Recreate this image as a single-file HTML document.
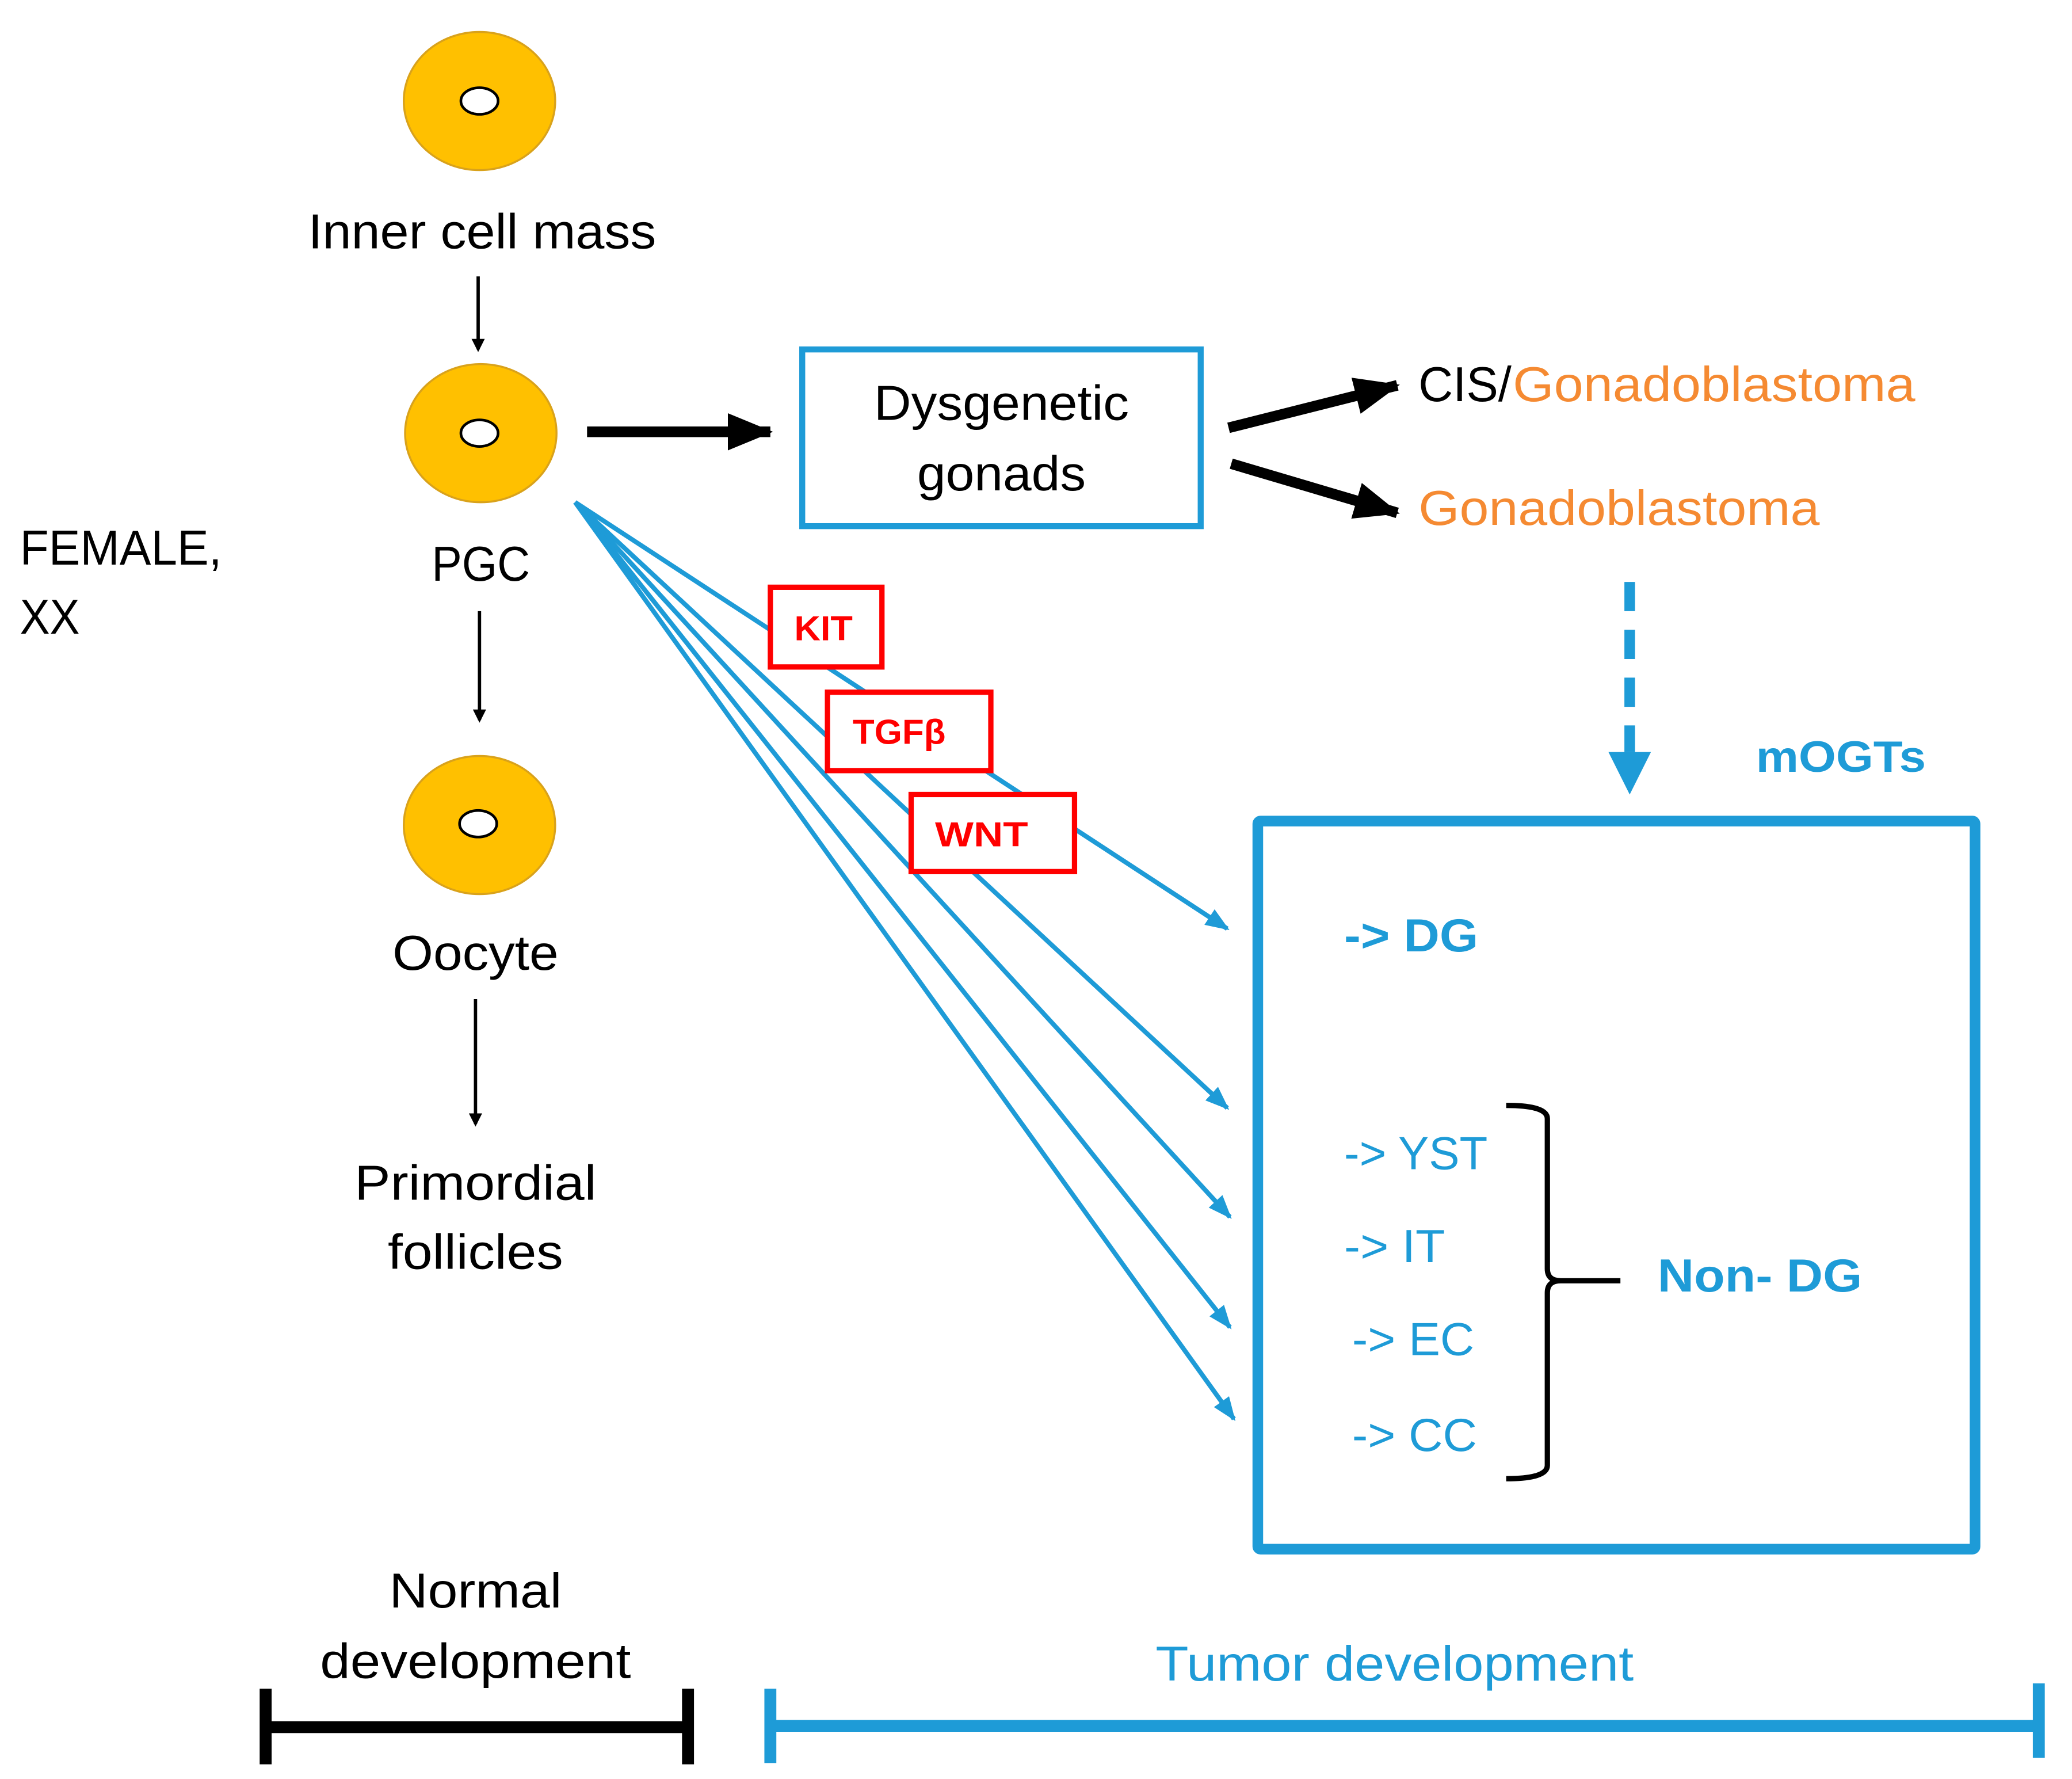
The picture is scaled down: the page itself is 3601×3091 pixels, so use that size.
<!DOCTYPE html>
<html><head><meta charset="utf-8"><style>html,body{margin:0;padding:0;background:#fff}svg{display:block}</style></head>
<body>
<svg width="3601" height="3091" viewBox="0 0 1560 1339" xmlns="http://www.w3.org/2000/svg" font-family="'Liberation Sans', sans-serif">
<defs>
<marker id="hb" markerWidth="10" markerHeight="10" refX="8" refY="5" orient="auto" markerUnits="userSpaceOnUse"><path d="M0,0 L10,5 L0,10 z" fill="#000"/></marker>
<marker id="hB" markerWidth="34" markerHeight="28" refX="32" refY="14" orient="auto" markerUnits="userSpaceOnUse"><path d="M0,0 L34,14 L0,28 z" fill="#000"/></marker>
<marker id="hl" markerWidth="18" markerHeight="14" refX="16" refY="7" orient="auto" markerUnits="userSpaceOnUse"><path d="M0,0 L18,7 L0,14 z" fill="#1E9BD7"/></marker>
</defs>
<rect width="1560" height="1339" fill="#fff"/>
<!-- cells -->
<g fill="#FFC000" stroke="#D9A21B" stroke-width="1.5">
<ellipse cx="361" cy="76" rx="57" ry="52"/>
<ellipse cx="362" cy="326" rx="57" ry="52"/>
<ellipse cx="361" cy="621" rx="57" ry="52"/>
</g>
<g fill="#fff" stroke="#000" stroke-width="2">
<ellipse cx="361" cy="76" rx="14" ry="10"/>
<ellipse cx="361" cy="326" rx="14" ry="10"/>
<ellipse cx="360" cy="620" rx="14" ry="10"/>
</g>
<g font-size="37" fill="#000" text-anchor="middle">
<text x="363" y="187" textLength="262" lengthAdjust="spacingAndGlyphs">Inner cell mass</text>
<text x="362" y="437" textLength="74" lengthAdjust="spacingAndGlyphs">PGC</text>
<text x="358" y="730" textLength="125" lengthAdjust="spacingAndGlyphs">Oocyte</text>
<text x="358" y="903" textLength="182" lengthAdjust="spacingAndGlyphs">Primordial</text>
<text x="358" y="955" textLength="132" lengthAdjust="spacingAndGlyphs">follicles</text>
<text x="754" y="316" textLength="192" lengthAdjust="spacingAndGlyphs">Dysgenetic</text>
<text x="754" y="369" textLength="127" lengthAdjust="spacingAndGlyphs">gonads</text>
<text x="358" y="1210" textLength="130" lengthAdjust="spacingAndGlyphs">Normal</text>
<text x="358" y="1263" textLength="234" lengthAdjust="spacingAndGlyphs">development</text>
</g>
<g font-size="37" fill="#000">
<text x="15" y="425" textLength="152" lengthAdjust="spacingAndGlyphs">FEMALE,</text>
<text x="15" y="477" textLength="45" lengthAdjust="spacingAndGlyphs">XX</text>
<text x="1068" y="302" textLength="70" lengthAdjust="spacingAndGlyphs">CIS/</text>
</g>
<g font-size="37" fill="#F58A32">
<text x="1139" y="302" textLength="303" lengthAdjust="spacingAndGlyphs">Gonadoblastoma</text>
<text x="1068" y="395" textLength="302" lengthAdjust="spacingAndGlyphs">Gonadoblastoma</text>
</g>
<!-- thin black arrows -->
<g stroke="#000" stroke-width="2.5" marker-end="url(#hb)">
<line x1="360" y1="208" x2="360" y2="263"/>
<line x1="361" y1="460" x2="361" y2="542"/>
<line x1="358" y1="752" x2="358" y2="846"/>
</g>
<!-- thick black arrows -->
<g stroke="#000" stroke-width="8" marker-end="url(#hB)">
<line x1="442" y1="325" x2="580" y2="325"/>
<line x1="925" y1="322" x2="1052" y2="290"/>
<line x1="927" y1="349" x2="1052" y2="386"/>
</g>
<!-- dysgenetic box -->
<rect x="604" y="263" width="300" height="133" fill="none" stroke="#1E9BD7" stroke-width="4.5"/>
<!-- dashed arrow -->
<line x1="1227" y1="438" x2="1227" y2="566" stroke="#1E9BD7" stroke-width="8" stroke-dasharray="22,14"/>
<path d="M1211,566 L1243,566 L1227,598 z" fill="#1E9BD7"/>
<text x="1322" y="581" font-size="33" font-weight="bold" fill="#1E9BD7" textLength="128" lengthAdjust="spacingAndGlyphs">mOGTs</text>
<!-- big box -->
<rect x="947" y="618" width="540" height="548" fill="none" stroke="#1E9BD7" stroke-width="8" rx="2"/>
<g fill="#1E9BD7" font-size="35">
<text x="1012" y="716" font-weight="bold" textLength="101" lengthAdjust="spacingAndGlyphs">-&gt; DG</text>
<text x="1012" y="880" textLength="108" lengthAdjust="spacingAndGlyphs">-&gt; YST</text>
<text x="1012" y="950" textLength="76" lengthAdjust="spacingAndGlyphs">-&gt; IT</text>
<text x="1018" y="1020" textLength="92" lengthAdjust="spacingAndGlyphs">-&gt; EC</text>
<text x="1018" y="1092" textLength="94" lengthAdjust="spacingAndGlyphs">-&gt; CC</text>
<text x="1248" y="972" font-weight="bold" textLength="154" lengthAdjust="spacingAndGlyphs">Non- DG</text>
</g>
<!-- brace -->
<path d="M1134,832 Q1165,832 1165,842 L1165,955 Q1165,964 1175,964 L1220,964 M1175,964 Q1165,964 1165,973 L1165,1103 Q1165,1113 1134,1113" fill="none" stroke="#000" stroke-width="4"/>
<!-- blue fan lines -->
<g stroke="#1E9BD7" stroke-width="3.5" marker-end="url(#hl)" fill="none">
<line x1="433" y1="378" x2="924" y2="699"/>
<line x1="433" y1="378" x2="924" y2="834"/>
<line x1="433" y1="378" x2="926" y2="916"/>
<line x1="433" y1="378" x2="926" y2="999"/>
<line x1="433" y1="378" x2="929" y2="1068"/>
</g>
<!-- red boxes -->
<g fill="#fff" stroke="#FF0000" stroke-width="4">
<rect x="580" y="442" width="84" height="60"/>
<rect x="623" y="521" width="123" height="59"/>
<rect x="686" y="598" width="123" height="58"/>
</g>
<g fill="#FF0000" font-size="26" font-weight="bold" text-anchor="middle">
<text x="620" y="482" textLength="44" lengthAdjust="spacingAndGlyphs">KIT</text>
<text x="677" y="560" textLength="70" lengthAdjust="spacingAndGlyphs">TGFβ</text>
<text x="739" y="637" textLength="70" lengthAdjust="spacingAndGlyphs">WNT</text>
</g>
<!-- bottom bars -->
<g stroke="#000" stroke-width="9">
<line x1="200" y1="1300" x2="518" y2="1300"/>
<line x1="200" y1="1271" x2="200" y2="1328"/>
<line x1="518" y1="1271" x2="518" y2="1328"/>
</g>
<text x="1050" y="1265" text-anchor="middle" font-size="37" fill="#1E9BD7" textLength="360" lengthAdjust="spacingAndGlyphs">Tumor development</text>
<g stroke="#1E9BD7" stroke-width="9">
<line x1="580" y1="1299" x2="1535" y2="1299"/>
<line x1="580" y1="1271" x2="580" y2="1327"/>
<line x1="1535" y1="1267" x2="1535" y2="1323"/>
</g>
</svg>
</body></html>
